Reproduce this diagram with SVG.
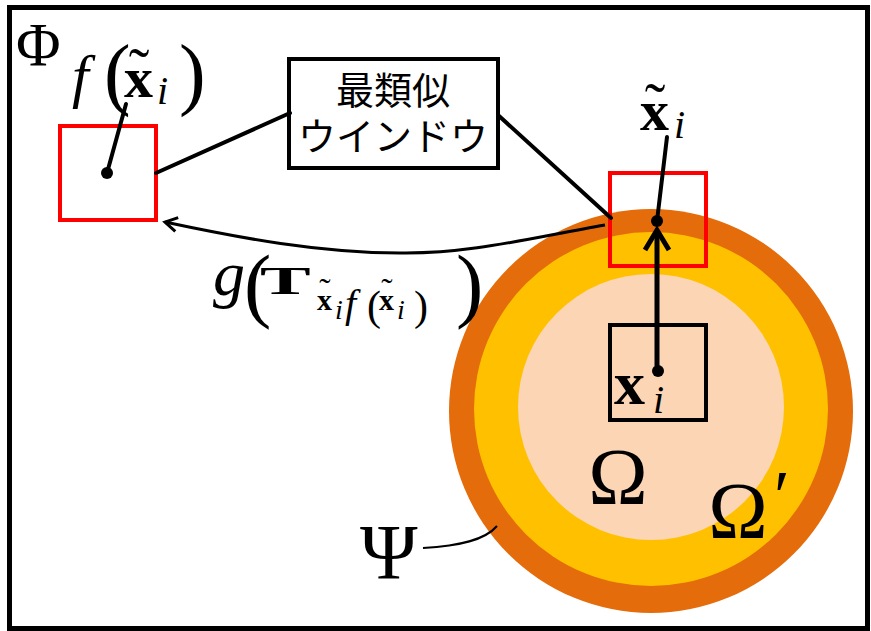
<svg xmlns="http://www.w3.org/2000/svg" width="871" height="631" viewBox="0 0 871 631">
<style>
.m{font-family:"Liberation Serif","DejaVu Serif",serif;fill:#000}
.it{font-style:italic}
.b{font-weight:bold}
.ln{stroke:#000;stroke-width:4;fill:none;stroke-linecap:round}
.red{fill:none;stroke:#ff0000;stroke-width:4}
.jp{font-family:"Noto Sans CJK JP","Noto Sans CJK SC",sans-serif;font-size:38px;fill:#000}
</style>
<defs>
<marker id="chev" markerWidth="20" markerHeight="20" refX="15" refY="10" orient="auto" markerUnits="userSpaceOnUse">
<path d="M3,3 L15,10 L3,17" fill="none" stroke="#000" stroke-width="3"/>
</marker>
</defs>
<rect width="871" height="631" fill="#fff"/>
<rect id="frame" x="9.5" y="7.5" width="858" height="621" fill="none" stroke="#000" stroke-width="5"/>

<g id="region-psi">
<circle cx="651" cy="411" r="202" fill="#e46c0a"/>
<circle cx="651" cy="409" r="177" fill="#ffc000"/>
<circle cx="651" cy="407" r="133" fill="#fcd5b5"/>
</g>

<text class="m" x="16" y="65" font-size="61">Φ</text>

<g id="win-left">
<rect class="red" x="60" y="126" width="96" height="94"/>
<circle cx="107" cy="173" r="6" fill="#000"/>
</g>
<g id="label-f">
<text class="m it" x="72" y="96" font-size="60">f</text>
<text class="m" x="104" y="100" font-size="80">(</text>
<text class="m b" x="124" y="97" font-size="58">x</text>
<text class="m" x="139" y="91" font-size="62" text-anchor="middle">˜</text>
<text class="m it" x="157" y="104" font-size="40">i</text>
<text class="m" x="179" y="100" font-size="80">)</text>
</g>

<g id="callout">
<rect x="289" y="59" width="209" height="109" fill="#fff" stroke="#000" stroke-width="4"/>
<text class="jp" x="393" y="104" text-anchor="middle">最類似</text>
<text class="jp" x="393" y="150" text-anchor="middle">ウインドウ</text>
</g>

<g id="win-right">
<rect class="red" x="610" y="173" width="96" height="93"/>
<circle cx="657" cy="221" r="6" fill="#000"/>
</g>
<g id="label-xt">
<text class="m b" x="640" y="130" font-size="58">x</text>
<text class="m" x="655" y="126" font-size="62" text-anchor="middle">˜</text>
<text class="m it" x="674" y="138" font-size="40">i</text>
</g>

<g id="win-x">
<rect x="610" y="325" width="96" height="95" fill="none" stroke="#000" stroke-width="4"/>
<circle cx="658" cy="371" r="6" fill="#000"/>
<text class="m b" x="614" y="404" font-size="62">x</text>
<text class="m it" x="653" y="413" font-size="40">i</text>
</g>

<g id="label-g">
<text class="m it" x="213" y="295" font-size="64">g</text>
<text class="m" x="244" y="312" font-size="82">(</text>
<text class="m b" transform="translate(260,294) scale(1.9,1)" font-size="40">T</text>
<text class="m b" x="317" y="310" font-size="30">x</text>
<text class="m" x="325" y="302" font-size="34" text-anchor="middle">˜</text>
<text class="m it" x="335" y="319" font-size="28">i</text>
<text class="m it" x="345" y="317" font-size="40">f</text>
<text class="m" x="367" y="320" font-size="42">(</text>
<text class="m b" x="379" y="310" font-size="30">x</text>
<text class="m" x="387" y="302" font-size="34" text-anchor="middle">˜</text>
<text class="m it" x="397" y="319" font-size="28">i</text>
<text class="m" x="414" y="320" font-size="42">)</text>
<text class="m" x="456" y="312" font-size="82">)</text>
</g>

<text class="m" x="618" y="504" font-size="80" text-anchor="middle">Ω</text>
<text class="m" x="738" y="538" font-size="80" text-anchor="middle">Ω</text>
<text class="m" x="774" y="520" font-size="72">′</text>
<text class="m" x="360" y="578" font-size="78">Ψ</text>

<g id="connectors">
<line class="ln" x1="156" y1="173" x2="290" y2="113"/>
<line class="ln" x1="498" y1="115" x2="611" y2="218"/>
<line class="ln" x1="107" y1="173" x2="126" y2="104"/>
<line class="ln" x1="657" y1="221" x2="667" y2="137"/>
<line x1="657" y1="366" x2="657" y2="232" stroke="#000" stroke-width="5"/>
<polyline points="645,250 657,230 669,250" fill="none" stroke="#000" stroke-width="5" stroke-linejoin="miter"/>
<path d="M605,225 C530,238 470,254 400,253 C320,253 240,238 165,222" fill="none" stroke="#000" stroke-width="3" marker-end="url(#chev)"/>
<path d="M423,548 C460,546 485,540 497,526" fill="none" stroke="#000" stroke-width="2"/>
</g>
</svg>
